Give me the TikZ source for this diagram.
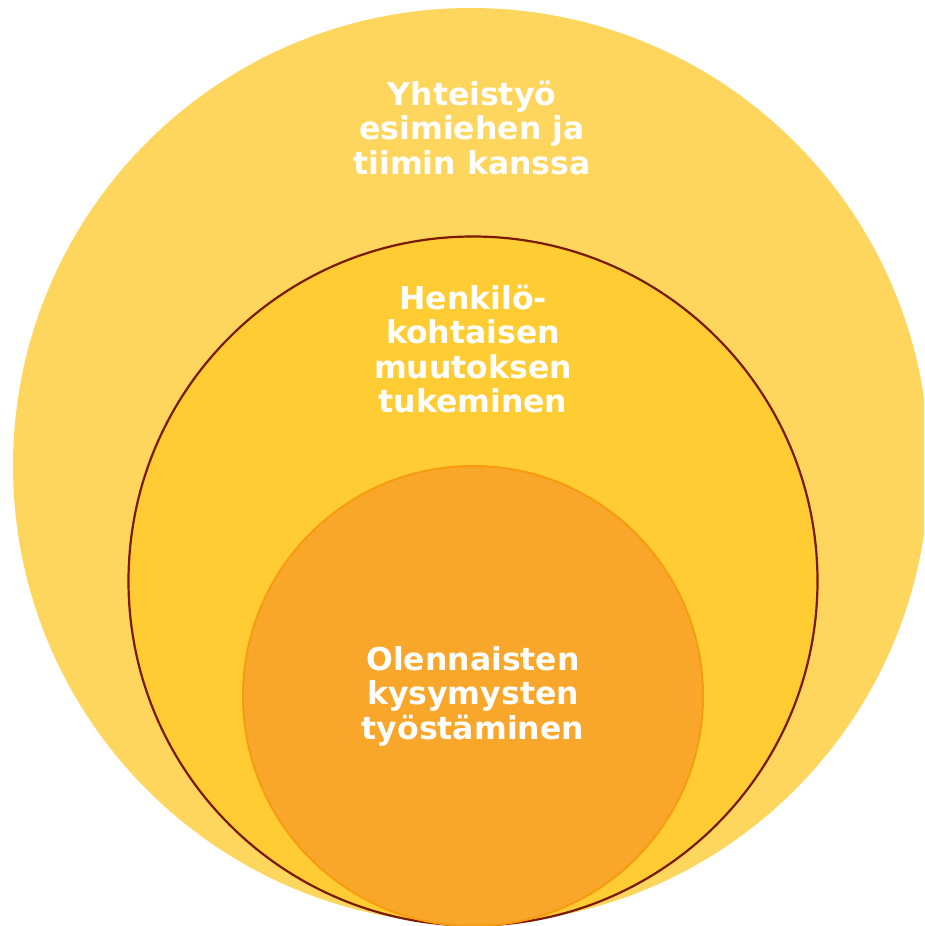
\documentclass[tikz,border=0pt]{standalone}
\usepackage{fontspec}
\setmainfont{DejaVu Sans}
\definecolor{outerc}{HTML}{FED65E}
\definecolor{midc}{HTML}{FFCC33}
\definecolor{innerc}{HTML}{F9A72A}
\definecolor{midline}{HTML}{7A1A00}
\definecolor{innerline}{HTML}{F89B10}
\tikzset{
  lbl/.style={text=white, font=\bfseries\fontsize{31.5}{34.5}\selectfont, align=center},
}
\begin{document}
\begin{tikzpicture}[x=1pt,y=-1pt]
\useasboundingbox (0,0) rectangle (924,926);
\begin{scope}
\clip (0,0) rectangle (924,926);
\fill[outerc] (471,466) circle[radius=458];
\end{scope}
\node[circle, fill=midc, draw=midline, line width=2.2pt, minimum size=689pt, inner sep=0pt] (mid) at (473,581) {};
\node[circle, fill=innerc, draw=innerline, line width=2pt, minimum size=460pt, inner sep=0pt] (inner) at (473,696) {};
\node[lbl] (t1) at (472,128) {Yhteistyö\\esimiehen ja\\tiimin kanssa};
\node[lbl] (t2) at (473,349) {Henkilö-\\kohtaisen\\muutoksen\\tukeminen};
\node[lbl] (t3) at (473,696) {Olennaisten\\kysymysten\\työstäminen};
\end{tikzpicture}
\end{document}
